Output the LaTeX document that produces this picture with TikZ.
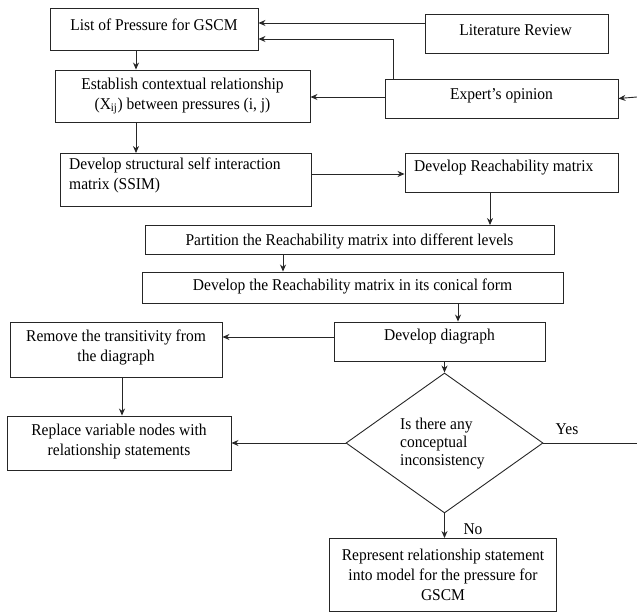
\documentclass[tikz,border=0pt]{standalone}
\usepackage{fontspec}
\setmainfont{Liberation Serif}[FakeStretch=0.94]
\usetikzlibrary{shapes.geometric,arrows.meta}
\begin{document}
\begin{tikzpicture}[x=1pt,y=-1pt,
  box/.style={draw=black!85,line width=0.9pt,inner sep=0pt,rectangle},
  txt/.style={inner sep=0pt,font=\fontsize{16.5}{20}\selectfont},
  arr/.style={draw=black!85,line width=0.9pt,-{Stealth[length=7pt,width=6pt]}},
  ln/.style={draw=black!85,line width=0.9pt}]
\useasboundingbox (0,0) rectangle (637,612);
% boxes
\node[box,minimum width=208,minimum height=42] (list) at (154,29) {};
\node[txt] (listT) at (154,25) {List of Pressure for GSCM};
\node[box,minimum width=183,minimum height=39] (lit) at (516.5,33.5) {};
\node[txt] (litT) at (515.5,30) {Literature Review};
\node[box,minimum width=255,minimum height=52] (est) at (182.5,96) {};
\node[txt,align=center] (estT) at (182.5,96) {Establish contextual relationship\\(X\textsubscript{ij}) between pressures (i, j)};
\node[box,minimum width=233,minimum height=39] (exp) at (501.5,98.5) {};
\node[txt] (expT) at (501.5,96) {Expert’s opinion};
\node[box,minimum width=251,minimum height=53] (ssim) at (185.5,180) {};
\node[txt,align=left,anchor=north west] (ssimT) at (69,158) {Develop structural self interaction\\matrix (SSIM)};
\node[box,minimum width=213,minimum height=39] (reach) at (511.5,172.5) {};
\node[txt,anchor=west] (reachT) at (414,168) {Develop Reachability matrix};
\node[box,minimum width=409,minimum height=29] (part) at (349.5,240) {};
\node[txt] (partT) at (349.5,241) {Partition the Reachability matrix into different levels};
\node[box,minimum width=421,minimum height=31] (canon) at (352.5,287.5) {};
\node[txt] (canonT) at (352.5,286) {Develop the Reachability matrix in its conical form};
\node[box,minimum width=211,minimum height=39] (dia) at (439.5,341.5) {};
\node[txt] (diaT) at (439.5,337) {Develop diagraph};
\node[box,minimum width=212,minimum height=55] (rem) at (116,349.5) {};
\node[txt,align=center] (remT) at (116,347.5) {Remove the transitivity from\\the diagraph};
\node[box,minimum width=224,minimum height=54] (rep) at (119,443) {};
\node[txt,align=center] (repT) at (119,442) {Replace variable nodes with\\relationship statements};
\node[draw=black!85,line width=0.9pt,diamond,inner sep=0pt,minimum width=197,minimum height=140] (dmd) at (444.5,443) {};
\node[txt,align=left,anchor=west,font=\fontsize{16.5}{18}\selectfont] (dmdT) at (400,444) {Is there any\\conceptual\\inconsistency};
\node[box,minimum width=227,minimum height=73] (repr) at (443,575) {};
\node[txt,align=center] (reprT) at (443,575) {Represent relationship statement\\into model for the pressure for\\GSCM};
\node[txt] (yes) at (567,429) {Yes};
\node[txt] (no) at (473,529) {No};
\coordinate (rin) at (637,97);
\coordinate (rout) at (637,443);
% connectors
\draw[arr] (lit.west |- 0,23) -- (list.east |- 0,23);
\draw[arr] (393,0 |- exp.north) -- (393,39) -- (list.east |- 0,39);
\draw[arr] (rin) -- (exp.east);
\draw[arr] (exp.west |- 0,97) -- (est.east |- 0,97);
\draw[arr] (list.south -| 136,0) -- (est.north -| 136,0);
\draw[arr] (est.south -| 136,0) -- (ssim.north -| 136,0);
\draw[arr] (ssim.east |- 0,174) -- (reach.west |- 0,174);
\draw[arr] (reach.south -| 490,0) -- (part.north -| 490,0);
\draw[arr] (part.south -| 283,0) -- (canon.north -| 283,0);
\draw[arr] (canon.south -| 458,0) -- (dia.north -| 458,0);
\draw[arr] (dia.west |- 0,337) -- (rem.east |- 0,337);
\draw[arr] (rem.south -| 122,0) -- (rep.north -| 122,0);
\draw[arr] (dia.south -| 444.5,0) -- (dmd.north);
\draw[arr] (dmd.west) -- (rep.east |- dmd.west);
\draw[ln] (dmd.east) -- (rout);
\draw[arr] (dmd.south) -- (repr.north -| dmd.south);
\end{tikzpicture}
\end{document}
